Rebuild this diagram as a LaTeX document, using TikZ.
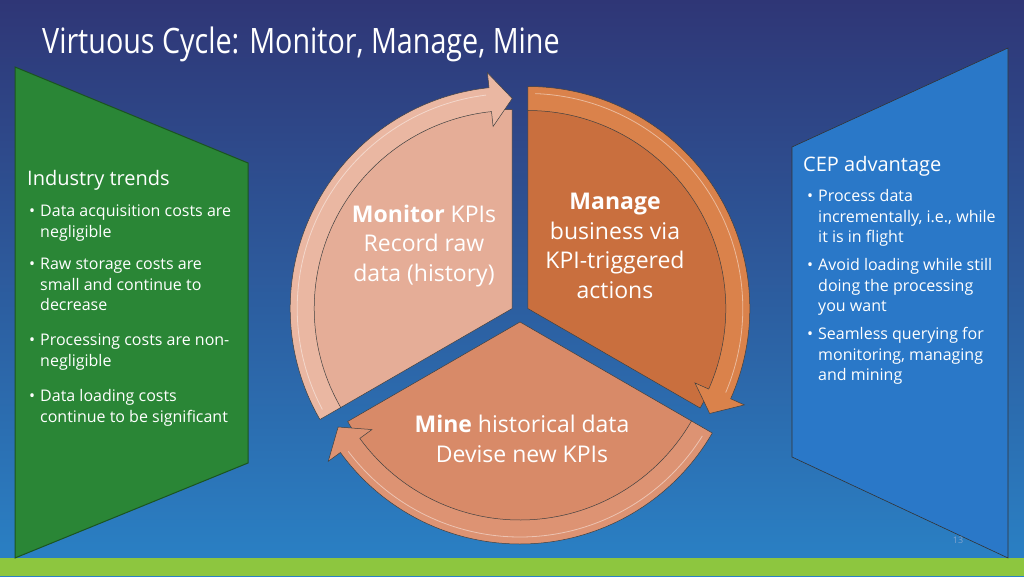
\documentclass[tikz,border=0pt]{standalone}
\usepackage{fontspec}
\setmainfont{Open Sans}
\usetikzlibrary{positioning}
\definecolor{bgtop}{HTML}{2F3676}
\definecolor{bgbot}{HTML}{2A82C6}
\definecolor{barlime}{HTML}{8DC63F}
\definecolor{trendgreen}{HTML}{2A8636}
\definecolor{trendedge}{HTML}{1B5420}
\definecolor{cepblue}{HTML}{2A78C8}
\definecolor{monfill}{HTML}{E5AD97}
\definecolor{monring}{HTML}{EAB7A2}
\definecolor{manfill}{HTML}{C96F3E}
\definecolor{manring}{HTML}{DA824B}
\definecolor{minfill}{HTML}{D88A68}
\definecolor{minring}{HTML}{DD9373}
\definecolor{pagegray}{HTML}{7FA3CF}
\tikzset{
    bullet/.style={anchor=north west, inner sep=0pt, align=left, text=white, font=\fontsize{16}{20.5}\selectfont},
    panelhead/.style={anchor=base west, inner sep=0pt, text=white, font=\fontsize{20}{24}\selectfont},
    cyctext/.style={align=center, inner sep=0pt, text=white, font=\fontsize{23}{29.5}\selectfont}
}
\newcommand{\bul}{\makebox[0pt][r]{\textbullet\hspace{5pt}}}

\begin{document}
\begin{tikzpicture}[x=1pt, y=1pt]
    \shade[top color=bgtop, bottom color=bgbot] (0,0) rectangle (1024,576);
    \fill[barlime] (0,0) rectangle (1024,18);
    \useasboundingbox (0,0) rectangle (1024,576);
    \node[anchor=base west, inner sep=0pt, text=white, font=\fontsize{35}{40}\selectfont] (title) at (42,522) {\scalebox{0.82}[1]{Virtuous Cycle: Monitor, Manage, Mine}};

    \filldraw[fill=trendgreen, draw=trendedge, line width=1pt] (15,509) -- (248,413) -- (248,113) -- (15,18) -- cycle;
    \filldraw[fill=cepblue, draw=black!80, line width=0.6pt] (792,429) -- (1008,528) -- (1008,18) -- (792,119) -- cycle;

    \foreach \dir/\fcol/\rcol in {150/monfill/monring, 30/manfill/manring, 270/minfill/minring} {
        \pgfmathsetmacro{\angA}{\dir+60}
        \pgfmathsetmacro{\angB}{\dir-60}
        \pgfmathsetmacro{\angH}{\dir-54}
        \begin{scope}[shift={(520,263)}, shift={(\dir:9)}]
            \filldraw[fill=\fcol, draw=black!75, line width=0.5pt] (0,0) -- (\angB:199) arc[start angle=\angB, end angle=\angA, radius=199] -- cycle;
            \filldraw[fill=\rcol, draw=black!75, line width=0.5pt] (\angA:222) arc[start angle=\angA, end angle=\angH, radius=222] -- (\angH:237) -- (\angB:210) -- (\angH:183) -- (\angH:198) arc[start angle=\angH, end angle=\angA, radius=198] -- cycle;
            \draw[white, opacity=0.45, line width=0.8pt] (\angA-2:215) arc[start angle=\angA-2, end angle=\angH+1, radius=215];
        \end{scope}
    }

    \node[cyctext] (monitor) at (424,330) {\textbf{Monitor} KPIs\\Record raw\\data (history)};
    \node[cyctext] (manage) at (615,330) {\textbf{Manage}\\business via\\KPI-triggered\\actions};
    \node[cyctext] (mine) at (522,137) {\textbf{Mine} historical data\\Devise new KPIs};

    \node[panelhead] (trends) at (27,390) {Industry trends};
    \node[bullet] (trendA) at (40,374) {\strut\bul Data acquisition costs are\\negligible};
    \node[bullet] (trendB) at (40,321) {\strut\bul Raw storage costs are\\small and continue to\\decrease};
    \node[bullet] (trendC) at (40,245) {\strut\bul Processing costs are non-\\negligible};
    \node[bullet] (trendD) at (40,189) {\strut\bul Data loading costs\\continue to be significant};

    \node[panelhead] (cep) at (803,404) {CEP advantage};
    \node[bullet] (cepA) at (818,389) {\strut\bul Process data\\incrementally, i.e., while\\it is in flight};
    \node[bullet] (cepB) at (818,320) {\strut\bul Avoid loading while still\\doing the processing\\you want};
    \node[bullet] (cepC) at (818,251) {\strut\bul Seamless querying for\\monitoring, managing\\and mining};

    \node[inner sep=0pt, text=pagegray, font=\fontsize{9}{10}\selectfont] (page) at (958,36) {13};
\end{tikzpicture}
\end{document}
